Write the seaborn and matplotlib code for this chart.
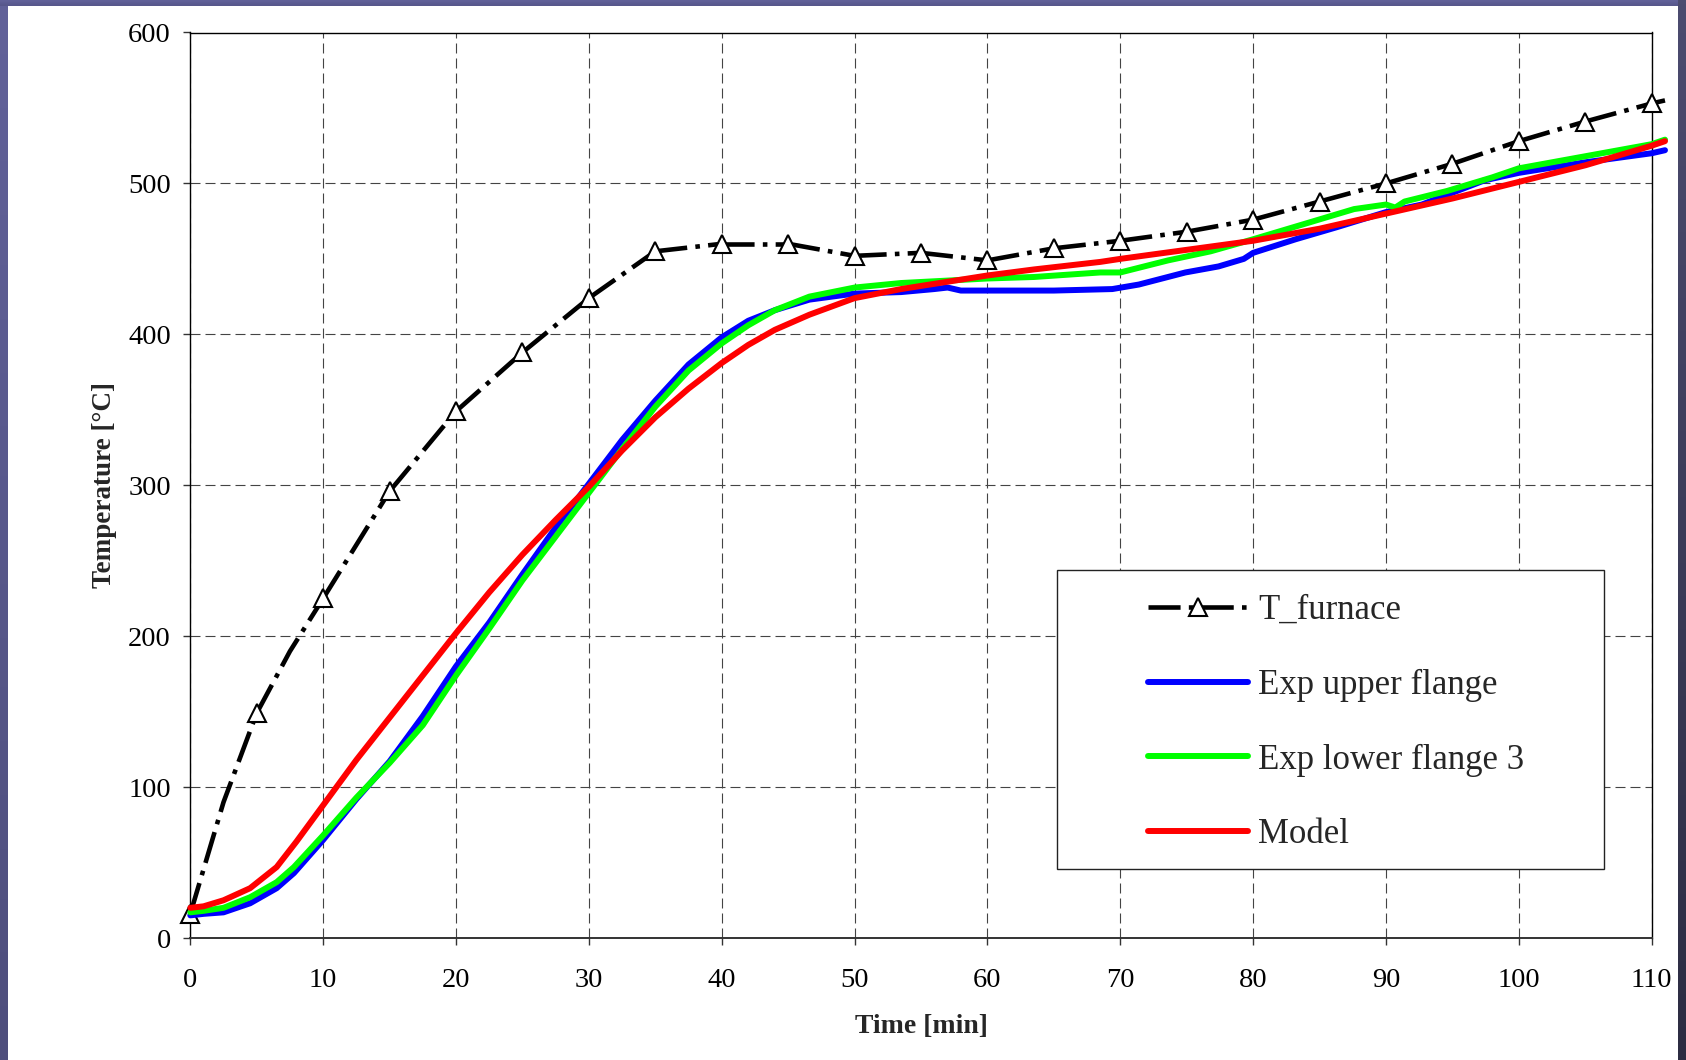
import numpy as np
import pandas as pd
import matplotlib
matplotlib.use("Agg")
import matplotlib.pyplot as plt
import seaborn as sns
from matplotlib.patches import Rectangle
from matplotlib.colors import LinearSegmentedColormap

# ---------------- data ----------------
t_furnace = [0, 2.5, 5, 7.5, 10, 15, 20, 25, 30, 35, 40, 45, 50, 55, 60, 65, 70,
             75, 80, 85, 90, 95, 100, 105, 110, 111]
T_furnace = [16, 90, 149, 190, 225, 296, 349, 388, 424, 455, 460, 460, 452, 454,
             449, 457, 462, 468, 476, 488, 500, 513, 528, 541, 553, 555]

t_upper = [0, 1, 2.5, 4.5, 6.5, 7.8, 10, 12.5, 15, 17.5, 20, 22.5, 25, 27.5, 30,
           32.5, 35, 37.5, 40, 42, 44, 46.6, 50, 53.5, 56, 57, 58, 60, 65, 69.4,
           71.4, 74.9, 77.4, 79.3, 80, 83.2, 86.3, 90, 92.7, 97.4, 100, 105, 110, 111]
T_upper = [15, 16, 17, 23, 33, 43, 65, 92, 117, 147, 180, 209, 241, 272, 301,
           330, 356, 380, 398, 409, 416, 423, 427, 428, 430, 431, 429, 429, 429, 430,
           433, 441, 445, 450, 454, 463, 471, 481, 486, 502, 507, 514, 520, 522]

t_lower = [0, 1, 2.5, 4.5, 6.5, 7.8, 10, 12.5, 15, 17.5, 20, 22.5, 25, 27.5, 30,
           32.5, 35, 37.5, 40, 42, 44, 46.6, 50, 53.5, 60, 63.5, 68.5, 70, 73.6,
           76.8, 80, 83.8, 87.6, 90, 90.7, 91.4, 94.6, 98, 100, 105, 110, 111]
T_lower = [17, 18, 20, 27, 37, 47, 68, 93, 116, 141, 174, 205, 237, 266, 295,
           324, 352, 376, 394, 406, 416, 425, 431, 434, 437, 438, 441, 441, 449,
           455, 463, 473, 483, 486, 484, 488, 495, 504, 510, 518, 526, 529]

t_model = [0, 1, 2.5, 4.5, 6.5, 8, 10, 12.5, 15, 17.5, 20, 22.5, 25, 27.5, 30,
           32.5, 35, 37.5, 40, 42, 44, 46.6, 50, 53.5, 60, 63.5, 68.5, 70, 75, 80,
           85, 90, 95, 100, 105, 110, 111]
T_model = [20, 21, 25, 33, 47, 64, 88, 118, 146, 174, 202, 229, 254, 277, 299,
           323, 345, 364, 381, 393, 403, 413, 424, 430, 439, 443, 448, 450, 456, 462,
           470, 480, 490, 501, 512, 525, 528]

series_names = ["T_furnace", "Exp upper flange", "Exp lower flange 3", "Model"]
x_ticks = list(range(0, 111, 10))
y_ticks = list(range(0, 601, 100))

# ---------------- style ----------------
sns.set_style("ticks")
plt.rcParams["font.family"] = ["Liberation Serif", "DejaVu Serif"]

W, H = 1686, 1060
fig = plt.figure(figsize=(W / 100, H / 100), dpi=100)
fig.patch.set_facecolor("white")


def strip(x0, y0, w, h, c_top, c_bot):
    a = fig.add_axes([x0 / W, 1 - (y0 + h) / H, w / W, h / H], zorder=-5)
    grad = np.linspace(0, 1, 256)[:, None]
    cm = LinearSegmentedColormap.from_list("g", [c_top, c_bot])
    a.imshow(grad, aspect="auto", cmap=cm, extent=[0, 1, 0, 1], origin="upper")
    a.set_axis_off()


strip(0, 0, 8, H, "#62629a", "#4e4e7c")
strip(0, 0, W, 6, "#62629a", "#56568a")
strip(1678, 0, 8, H, "#4c4c70", "#2c2c42")

ax = fig.add_axes([190.3 / W, 1 - 938 / H, (1651.7 - 190.3) / W, (938 - 32.5) / H])
ax.set_facecolor("white")

# furnace: dash pattern restarts at every marked (5-min) vertex, as in the source
dash_style = (0, (7.0, 1.8, 1.0, 1.8))
mk = [i for i, t in enumerate(t_furnace) if t % 5 == 0]
mk.append(len(t_furnace) - 1)
for k in range(len(mk) - 1):
    i, j = mk[k], mk[k + 1]
    sns.lineplot(x=t_furnace[i:j + 1], y=T_furnace[i:j + 1], ax=ax,
                 color="black", lw=3.3, linestyle=dash_style, marker="^",
                 markersize=13.5, markerfacecolor="white",
                 markeredgecolor="black", markeredgewidth=1.5,
                 markevery=[0], label=series_names[0] if k == 0 else None,
                 clip_on=False, zorder=3, sort=False)

sns.lineplot(x=t_upper, y=T_upper, ax=ax, color="#0000ff", lw=4.3,
             label=series_names[1], clip_on=False, zorder=4,
             solid_capstyle="round")
sns.lineplot(x=t_lower, y=T_lower, ax=ax, color="#00ff00", lw=4.3,
             label=series_names[2], clip_on=False, zorder=5,
             solid_capstyle="round")
sns.lineplot(x=t_model, y=T_model, ax=ax, color="#ff0000", lw=4.3,
             label=series_names[3], clip_on=False, zorder=6,
             solid_capstyle="round")

ax.set_xlim(0, 110)
ax.set_ylim(0, 600)
ax.set_xticks(x_ticks)
ax.set_yticks(y_ticks)
ax.tick_params(axis="both", direction="out", length=5, width=1.0,
               color="#333333", labelsize=20.5, labelcolor="black")
ax.tick_params(axis="x", pad=16.5)
ax.tick_params(axis="y", pad=9)

ax.grid(True, color="#444444", lw=0.8, ls=(0, (9, 4.5)))
ax.set_axisbelow(True)
for s in ax.spines.values():
    s.set_visible(True)
    s.set_color("black")
    s.set_linewidth(1.0)
ax.spines["bottom"].set_color("#333333")
ax.spines["bottom"].set_linewidth(1.4)

ax.set_xlabel("Time [min]", fontsize=20, fontweight="bold", labelpad=15)
ax.set_ylabel("Temperature [°C]", fontsize=19.5, fontweight="bold", labelpad=8)

# legend frame
x0 = (1057 - 190.3) / 1461.4
x1 = (1604 - 190.3) / 1461.4
y0 = (938 - 869) / 905.5
y1 = (938 - 570) / 905.5
ax.add_patch(Rectangle((x0, y0), x1 - x0, y1 - y0, transform=ax.transAxes,
                       facecolor="white", edgecolor="#222222", lw=1.0,
                       zorder=2.5))

handles, labels = ax.get_legend_handles_labels()
order = [labels.index(n) for n in series_names]
leg = ax.legend([handles[o] for o in order], [labels[o] for o in order],
                loc="upper left",
                bbox_to_anchor=((1148 - 190.3) / 1461.4, (938 - 594) / 905.5),
                frameon=False, fontsize=25, handlelength=2.88,
                handletextpad=0.29, labelspacing=1.2, borderpad=0,
                borderaxespad=0)
leg.set_zorder(7)

fig.savefig("out.png", dpi=100, facecolor=fig.get_facecolor())
